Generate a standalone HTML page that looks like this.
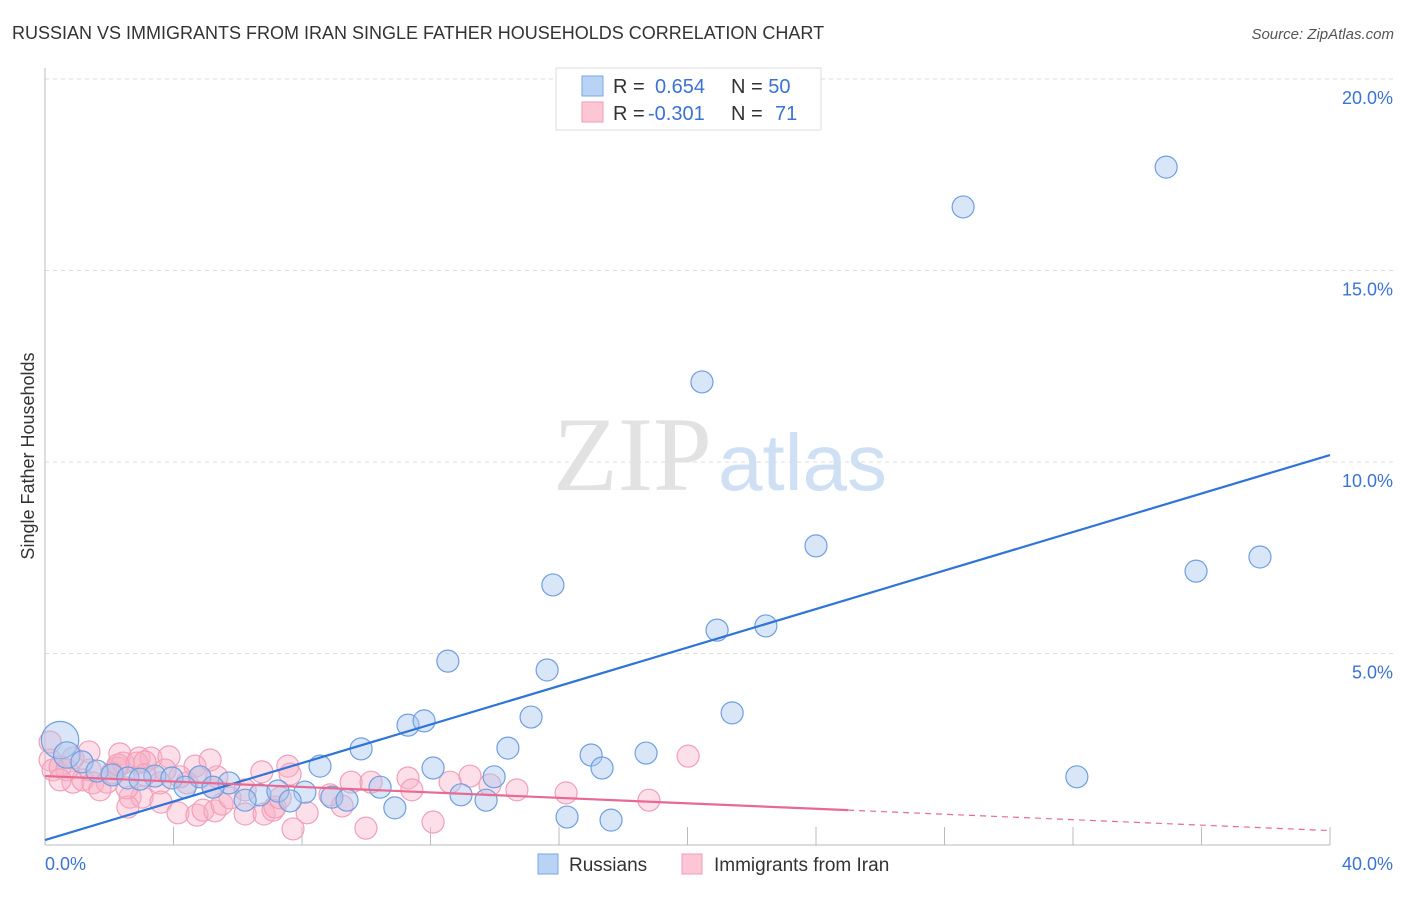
<!DOCTYPE html>
<html><head><meta charset="utf-8"><style>
body{margin:0;background:#fff;font-family:"Liberation Sans",sans-serif}
</style></head><body>
<svg id="chart" width="1406" height="892" xmlns="http://www.w3.org/2000/svg" font-family="Liberation Sans, sans-serif">
<text x="12" y="39" font-size="18" fill="#333">RUSSIAN VS IMMIGRANTS FROM IRAN SINGLE FATHER HOUSEHOLDS CORRELATION CHART</text>
<text x="1394" y="39" font-size="15" fill="#555" font-style="italic" text-anchor="end">Source: ZipAtlas.com</text>
<text transform="translate(34,456) rotate(-90)" font-size="18" fill="#333" text-anchor="middle">Single Father Households</text>
<g id="grid"></g>
<text x="553" y="490" font-size="106" font-family="Liberation Serif, serif" fill="#e2e2e2">ZIP<tspan fill="#cfe0f5" font-family="Liberation Sans, sans-serif" font-size="80" dx="6">atlas</tspan></text>
<g id="marks"></g>
<g id="legend-top">
<rect x="556" y="68" width="265" height="62" fill="#fff" stroke="#ddd"/>
<rect x="582" y="76" width="21" height="20" fill="#b9d3f5" stroke="#7aa6e6"/>
<rect x="582" y="102" width="21" height="20" fill="#fcc6d5" stroke="#f29ab5"/>
<text x="613" y="93" font-size="20" fill="#333">R = <tspan fill="#3b73d3" x="655">0.654</tspan><tspan x="731" fill="#333">N = </tspan><tspan fill="#3b73d3">50</tspan></text>
<text x="613" y="120" font-size="20" fill="#333">R = <tspan fill="#3b73d3" x="648">-0.301</tspan><tspan x="731" fill="#333">N = </tspan><tspan fill="#3b73d3" x="775">71</tspan></text>
</g>
<g>
<rect x="538" y="854" width="20" height="20" fill="#b9d3f5" stroke="#7aa6e6"/>
<text x="569" y="871" font-size="19" fill="#333">Russians</text>
<rect x="682" y="854" width="20" height="20" fill="#fcc6d5" stroke="#f29ab5"/>
<text x="714" y="871" font-size="19" fill="#333">Immigrants from Iran</text>
</g>
</svg>
<script>
const blueX=[28.58,34.9,20.45,24.0,35.83,37.82,15.81,20.92,22.44,12.54,15.63,15.13,21.39,11.30,11.80,9.84,14.41,17.0,18.71,8.56,12.08,17.34,32.12,13.98,10.43,12.95,13.73,8.93,9.40,10.89,16.25,17.62,0.47,0.68,1.15,1.62,2.09,2.58,3.42,3.95,4.82,5.73,4.36,5.23,6.69,7.25,8.09,7.63,6.23,2.96];
const blueY=[16.66,17.70,12.09,7.81,7.15,7.52,6.79,5.61,5.72,4.80,4.57,3.34,3.45,3.13,3.24,2.51,2.53,2.35,2.40,2.06,2.01,2.01,1.78,1.78,1.51,1.31,1.17,1.25,1.17,0.97,0.73,0.65,2.74,2.35,2.17,1.93,1.83,1.75,1.80,1.75,1.78,1.62,1.51,1.51,1.31,1.41,1.38,1.15,1.17,1.72];
const blueSize=[1,1,1,1,1,1,1,1,1,1,1,1,1,1,1,1,1,1,1,1,1,1,1,1,1,1,1,1,1,1,1,1,1.7,1.2,1,1,1,1,1,1,1,1,1,1,1,1,1,1,1,1];
const pinkX=[1.37,2.33,2.93,3.30,3.86,4.67,5.35,6.75,7.56,7.63,9.53,10.15,11.30,11.42,12.61,13.23,13.85,14.69,2.65,3.02,2.58,3.61,4.14,4.73,4.92,5.29,5.51,6.23,6.82,7.10,7.16,8.16,7.72,9.25,9.99,12.08,0.87,1.18,1.49,1.93,0.16,0.25,0.47,0.68,2.24,2.43,2.86,3.11,2.09,4.42,4.82,5.23,3.58,4.20,0.16,0.87,20.02,18.80,16.22,1.71,2.55,0.47,1.40,3.74,3.11,5.14,6.23,2.27,5.76,7.32,8.87];
const pinkY=[2.43,2.38,2.27,2.27,2.30,2.06,1.78,1.91,2.06,1.85,1.64,1.64,1.75,1.44,1.64,1.80,1.57,1.44,1.25,1.25,0.99,1.12,0.84,0.78,0.91,0.89,1.07,0.81,0.81,0.91,0.99,0.84,0.42,1.02,0.44,0.60,1.64,1.70,1.62,1.64,2.22,1.96,2.04,1.96,2.01,2.14,2.14,2.17,1.88,1.62,1.78,1.51,1.62,1.78,2.69,2.27,2.32,1.17,1.36,1.44,1.49,1.70,1.96,1.96,1.83,2.22,1.44,2.09,1.23,1.23,1.31];
const blueTrend=[0.13,0.2513];
const pinkTrend=[1.80,-0.0356];
const pinkSolidEnd=[25];
const yTicks=[5,10,15,20];
const yTickLabels=["5.0%","10.0%","15.0%","20.0%"];
const xTicks=[4,8,12,16,20,24,28,32,36,40];
const NS="http://www.w3.org/2000/svg";
const X0=45,X1=1330,Y0=845,PXY=38.3;
function sx(v){return X0+(X1-X0)*v/40;}
function sy(v){return Y0-v*PXY;}
function mk(tag,attrs,parent){const e=document.createElementNS(NS,tag);for(const k in attrs)e.setAttribute(k,attrs[k]);parent.appendChild(e);return e;}
const grid=document.getElementById('grid');
yTicks.forEach((t,i)=>{
 const l=mk('line',{x1:X0,x2:1393,y1:sy(t),y2:sy(t),stroke:'#dcdcdc','stroke-dasharray':'4,4'},grid);
 
 
 const tx=mk('text',{x:1393,y:sy(t)+25,'font-size':18,fill:'#3b73d3','text-anchor':'end'},grid);
 tx.textContent=yTickLabels[i];
 
 
});
const ax=mk('line',{x1:X0,x2:X0,y1:68,y2:Y0,stroke:'#bbb'},grid);


const bx=mk('line',{x1:X0,x2:X1,y1:Y0,y2:Y0,stroke:'#bbb'},grid);


xTicks.forEach(t=>{
 const l=mk('line',{x1:sx(t),x2:sx(t),y1:Y0-18,y2:Y0,stroke:'#bbb'},grid);
 
 
});
const xl0=mk('text',{x:X0,y:870,'font-size':18,fill:'#3b73d3'},grid);xl0.textContent='0.0%';


const xl1=mk('text',{x:1393,y:870,'font-size':18,fill:'#3b73d3','text-anchor':'end'},grid);xl1.textContent='40.0%';


const marks=document.getElementById('marks');
pinkX.forEach((v,i)=>{
 const c=mk('circle',{cx:sx(v),cy:sy(pinkY[i]),r:11,fill:'rgba(248,175,198,0.4)',stroke:'#f0a0b8','stroke-width':1.2},marks);
 
 
});
blueX.forEach((v,i)=>{
 const c=mk('circle',{cx:sx(v),cy:sy(blueY[i]),r:11*blueSize[i],fill:'rgba(170,200,240,0.45)',stroke:'#6f9fe0','stroke-width':1.2},marks);
 
 
});
const bl=mk('line',{x1:sx(0),y1:sy(blueTrend[0]),x2:sx(40),y2:sy(blueTrend[0]+blueTrend[1]*40),stroke:'#2f74d8','stroke-width':2.2},marks);


const pe=pinkSolidEnd[0];
const pl=mk('line',{x1:sx(0),y1:sy(pinkTrend[0]),x2:sx(pe),y2:sy(pinkTrend[0]+pinkTrend[1]*pe),stroke:'#e86a92','stroke-width':2.2},marks);


const pd=mk('line',{x1:sx(pe),y1:sy(pinkTrend[0]+pinkTrend[1]*pe),x2:sx(40),y2:sy(pinkTrend[0]+pinkTrend[1]*40),stroke:'#e86a92','stroke-width':1.2,'stroke-dasharray':'6,5'},marks);


</script>
</body></html>
